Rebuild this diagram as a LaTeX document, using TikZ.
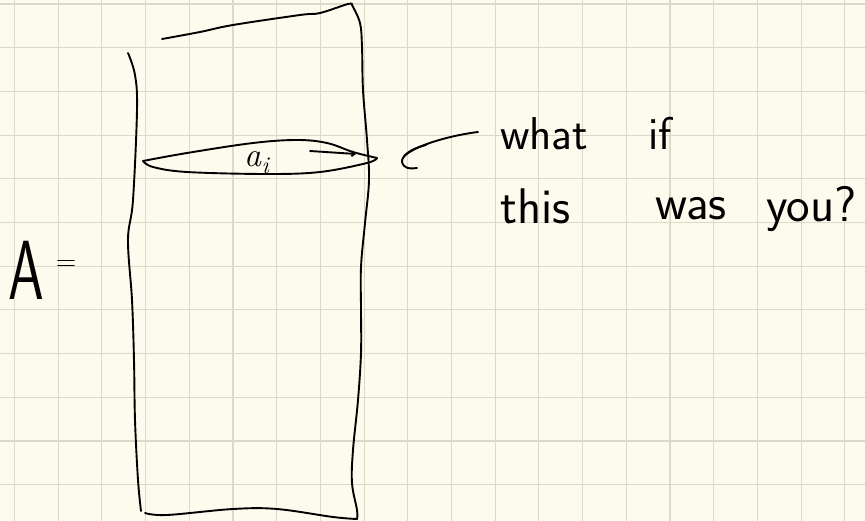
\documentclass[tikz,border=0pt]{standalone}
\usepackage{fontspec}
\usepackage{xcolor}
\usepackage{tikz}
\usetikzlibrary{arrows.meta}

\definecolor{paper}{HTML}{FDFBEE}
\definecolor{gridline}{HTML}{DDD9CA}

\begin{document}
\begin{tikzpicture}[x=1pt, y=-1pt,
    ink/.style={line width=1.9pt, black, line cap=round, line join=round},
    word/.style={anchor=base west, inner sep=0pt, font=\sffamily\fontsize{50}{50}\selectfont},
    small/.style={anchor=base west, inner sep=0pt, font=\sffamily\fontsize{46}{46}\selectfont}]
    \fill[paper] (0,0) rectangle (865,521);
    \useasboundingbox (0,0) rectangle (865,521);
    % squared paper
    \foreach \k in {0,...,19}
    {
        \draw[gridline, line width=1.1pt] (14.5+43.7*\k,0) -- (14.5+43.7*\k,521);
    }
    \foreach \k in {0,...,11}
    {
        \draw[gridline, line width=1.1pt] (0,4+43.7*\k) -- (865,4+43.7*\k);
    }
    % the matrix A
    \node[anchor=base west, inner sep=0pt, font=\sffamily\fontsize{84}{84}\selectfont] (A) at (8,300) {\scalebox{0.68}[1]{A}};
    \node[inner sep=0pt, font=\sffamily\fontsize{28}{28}\selectfont] (eq) at (66,266) {=};
    \draw[ink] plot[smooth, tension=0.6] coordinates {(128,53) (135,75) (137,110) (133,200) (128,240) (132,300) (134,360) (135,420) (138,480) (141,511)};
    \draw[ink] plot[smooth, tension=0.6] coordinates {(145,513) (167,515) (233,509) (277,509) (333,517) (357,519)};
    \draw[ink] plot[smooth, tension=0.6] coordinates {(357,519) (357,510) (352,483) (353,450) (358,400) (361,353) (361,310) (361,267) (365,223) (369,180) (367,140) (363,90) (362,47) (360,23) (352,5)};
    \draw[ink] plot[smooth, tension=0.6] coordinates {(352,5) (348,4) (320,13) (300,15) (233,25) (200,32) (162,39)};
    % the row a_i
    \draw[ink] plot[smooth, tension=0.6] coordinates {(143,161) (187,153) (253,143) (297,140) (327,143) (353,152) (377,158)};
    \draw[ink] plot[smooth, tension=0.6] coordinates {(377,158) (367,163) (320,172) (267,174) (187,172) (153,167) (143,161)};
    \node[anchor=base west, inner sep=0pt, font=\fontsize{34}{34}\selectfont] (ai) at (244,167)
        {\textit{a}\raisebox{-0.2em}{\fontsize{24}{24}\selectfont\textit{i}}};
    \coordinate (rowfrom) at (310,151);
    \coordinate (rowto) at (356,154);
    \draw[ink, -{Straight Barb[length=3pt, width=5pt]}] (rowfrom) -- (rowto);
    % the note
    \coordinate (curlfrom) at (478,132);
    \coordinate (curlto) at (417,168);
    \draw[ink] (curlfrom) .. controls (445,136) and (400,150) .. (402,162) .. controls (404,169) and (410,169) .. (curlto);
    \draw[ink] (404,156) .. controls (410,150) and (418,147) .. (426,145);
    \node[small] (what) at (500,150) {what};
    \node[small] (if) at (648,150) {if};
    \node[word] (this) at (500,224) {this};
    \node[word] (was) at (655,220) {was};
    \node[word] (you) at (766,222) {you?};
\end{tikzpicture}
\end{document}
